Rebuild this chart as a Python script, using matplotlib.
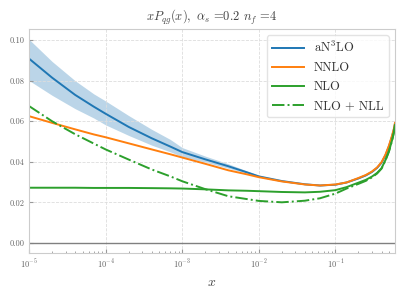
import matplotlib
matplotlib.use("Agg")
import matplotlib.pyplot as plt

# x grid and curves
x = [1e-5, 2e-5, 4e-5, 7e-5, 1e-4, 2e-4, 4e-4, 7e-4, 1e-3, 2e-3, 4e-3, 7e-3,
     1e-2, 2e-2, 4e-2, 6.3e-2, 0.1, 0.14, 0.2, 0.25, 0.3, 0.35, 0.4, 0.45,
     0.5, 0.55, 0.58, 0.6]

an3lo = [0.0909, 0.0815, 0.0730, 0.0672, 0.0637, 0.0572, 0.0516, 0.0475, 0.0448,
         0.0412, 0.0378, 0.0348, 0.0328, 0.0305, 0.0289, 0.0283, 0.0287, 0.0298,
         0.0318, 0.0333, 0.0350, 0.0370, 0.0395, 0.0432, 0.0476, 0.0526, 0.0559,
         0.0588]
an3lo_hi = [0.1004, 0.0895, 0.0800, 0.0735, 0.0700, 0.0628, 0.0560, 0.0510, 0.0470,
            0.0428, 0.0390, 0.0355, 0.0333, 0.0307, 0.0291, 0.0285, 0.0289, 0.0300,
            0.0320, 0.0335, 0.0352, 0.0372, 0.0397, 0.0434, 0.0478, 0.0528, 0.0561,
            0.0590]
an3lo_lo = [0.0801, 0.0728, 0.0662, 0.0616, 0.0582, 0.0530, 0.0482, 0.0449, 0.0425,
            0.0398, 0.0368, 0.0343, 0.0325, 0.0303, 0.0287, 0.0281, 0.0285, 0.0296,
            0.0316, 0.0331, 0.0348, 0.0368, 0.0393, 0.0430, 0.0474, 0.0524, 0.0557,
            0.0586]
nnlo = [0.0625, 0.0592, 0.0560, 0.0535, 0.0521, 0.0491, 0.0461, 0.0437, 0.0421,
        0.0390, 0.0358, 0.0338, 0.0324, 0.0303, 0.0288, 0.0283, 0.0288, 0.0298,
        0.0320, 0.0335, 0.0352, 0.0372, 0.0398, 0.0435, 0.0480, 0.0530, 0.0563,
        0.0592]
nlo = [0.0272, 0.0272, 0.0272, 0.0271, 0.0271, 0.0271, 0.0270, 0.0269, 0.0268,
       0.0264, 0.0259, 0.0257, 0.0255, 0.0251, 0.0249, 0.0252, 0.0260, 0.0275,
       0.0297, 0.0311, 0.0327, 0.0345, 0.0368, 0.0408, 0.0452, 0.0507, 0.0545,
       0.0582]
nlo_nll = [0.0675, 0.0600, 0.0536, 0.0490, 0.0461, 0.0411, 0.0362, 0.0328, 0.0304,
           0.0265, 0.0230, 0.0216, 0.0207, 0.0200, 0.0208, 0.0220, 0.0243, 0.0268,
           0.0291, 0.0306, 0.0323, 0.0342, 0.0366, 0.0406, 0.0450, 0.0505, 0.0543,
           0.0580]

plt.rcParams.update({
    "font.family": "serif",
    "font.serif": ["cmr10", "DejaVu Serif"],
    "mathtext.fontset": "cm",
    "axes.formatter.use_mathtext": True,
    "axes.unicode_minus": False,
})

fig = plt.figure(figsize=(4.07, 2.91), dpi=100)
ax = fig.add_axes([0.0713, 0.1306, 0.8992, 0.7697])

ax.fill_between(x, an3lo_lo, an3lo_hi, color="#1f77b4", alpha=0.3, linewidth=0)
ax.plot(x, an3lo, color="#1f77b4", lw=1.4, label=r"aN$^3$LO")
ax.plot(x, nnlo, color="#ff7f0e", lw=1.4, label="NNLO")
ax.plot(x, nlo, color="#2ca02c", lw=1.4, label="NLO")
ax.plot(x, nlo_nll, color="#2ca02c", lw=1.4, ls="-.", label="NLO + NLL")
ax.axhline(0, color="gray", lw=1.0)

ax.set_xscale("log")
ax.set_xlim(1e-5, 0.6)
ax.set_ylim(-0.005, 0.1055)
ax.set_yticks([0.0, 0.02, 0.04, 0.06, 0.08, 0.10])
ax.set_yticklabels(["0.00", "0.02", "0.04", "0.06", "0.08", "0.10"])

ax.grid(which="major", ls="--", color="#dddddd", lw=0.6)
for s in ax.spines.values():
    s.set_color("#cccccc")
ax.tick_params(which="both", direction="in", labelsize=6, colors="#999999",
               labelcolor="#666666", top=False, right=False)
ax.tick_params(which="major", length=3)
ax.tick_params(which="minor", length=1.8)

ax.set_xlabel(r"$x$", fontsize=10, color="#444444")
ax.set_title(r"$xP_{qg}(x),\ \alpha_s$ =0.2 $n_f$ =4", fontsize=9, color="#444444")
leg = ax.legend(loc="upper right", fontsize=9, frameon=True, handlelength=2.6,
                handletextpad=0.8, labelspacing=0.55)
leg.get_frame().set_edgecolor("#dddddd")
for t in leg.get_texts():
    t.set_color("#333333")

plt.savefig("out.png", dpi=100)
plt.close()
